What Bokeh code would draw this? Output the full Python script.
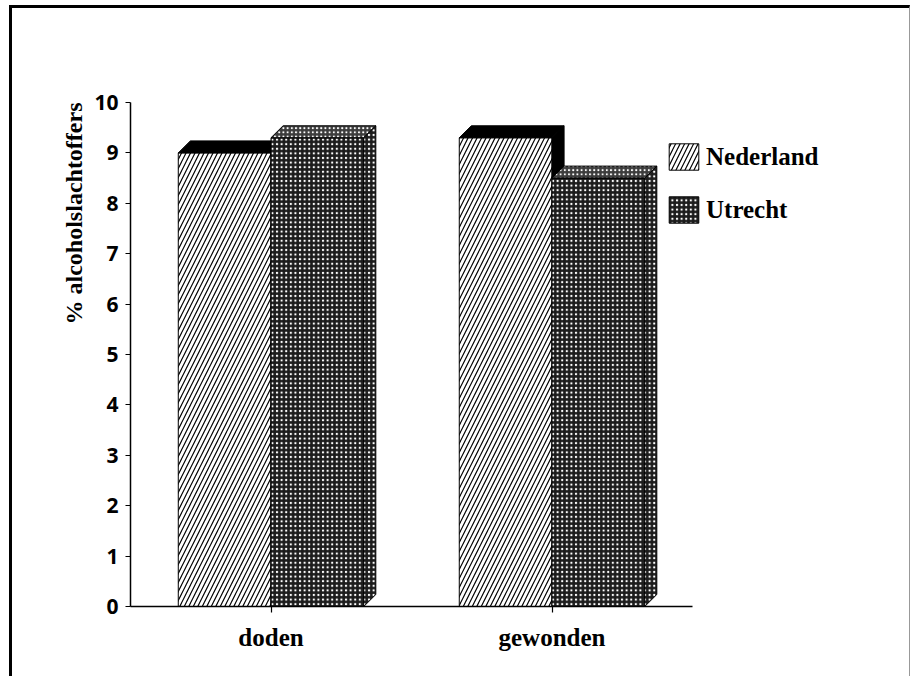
import math
from bokeh.plotting import figure
from bokeh.models import (Range1d, FixedTicker, Legend, LegendItem, Title)
from bokeh.embed import file_html
from bokeh.resources import INLINE

# ---- data ----
categories = ["doden", "gewonden"]
series_names = ["Nederland", "Utrecht"]
nederland = [9.0, 9.3]
utrecht = [9.3, 8.5]
y_ticks = [0, 1, 2, 3, 4, 5, 6, 7, 8, 9, 10]
y_label = "% alcoholslachtoffers"

# ---- style / layout constants ----
OX, OY = 12, 8            # page position of the canvas (margin + css border)
CW, CH = 901, 671         # canvas size
PX_PER_CAT = 281.0        # pixels per category unit along x
FRAME_L, FRAME_R, FRAME_T, FRAME_B = 130, 905, 102, 606   # page pixels
BAR_W = 0.33
DX = 0.043   # 3D depth in x (data units)
DY = 0.238   # 3D depth in y (data units)
SERIF = "Liberation Serif"

x_end = (FRAME_R - FRAME_L) / PX_PER_CAT

p = figure(width=CW, height=CH, output_backend="svg", toolbar_location=None,
           x_range=Range1d(0, x_end), y_range=Range1d(0, 10),
           min_border_left=FRAME_L - OX, min_border_right=OX + CW - FRAME_R,
           min_border_top=FRAME_T - OY, min_border_bottom=OY + CH - FRAME_B)
p.margin = (5, 0, 0, 9)
p.styles = {"border-left": "3px solid black", "border-top": "3px solid black",
            "border-right": "1px solid #999999"}
p.grid.visible = False
p.outline_line_color = None
p.background_fill_color = "white"
p.border_fill_color = "white"

centers = [i + 0.5 for i in range(len(categories))]
x_ned = [c - BAR_W / 2 for c in centers]
x_utr = [c + BAR_W / 2 for c in centers]


def faces(xc, vals):
    tops_x, tops_y, side_x, side_y = [], [], [], []
    for x, v in zip(xc, vals):
        l, r = x - BAR_W / 2, x + BAR_W / 2
        tops_x.append([l, l + DX, r + DX, r])
        tops_y.append([v, v + DY, v + DY, v])
        side_x.append([r, r + DX, r + DX, r])
        side_y.append([0, DY, v + DY, v])
    return tops_x, tops_y, side_x, side_y


HATCH_N = dict(fill_color="white", hatch_pattern="right_diagonal_line",
               hatch_color="black", hatch_scale=9, hatch_weight=1.2)
HATCH_U = dict(fill_color="#1c1c1c", hatch_pattern="dot",
               hatch_color="white", hatch_scale=4.6, hatch_weight=1.8)
HATCH_U_TOP = dict(fill_color="#3c3c3c", hatch_pattern="dot",
                   hatch_color="white", hatch_scale=4.2, hatch_weight=2.0)

renderers = []
for xc, vals, front, top_style, side_style in [
        (x_ned, nederland, HATCH_N, dict(fill_color="black"), dict(fill_color="black")),
        (x_utr, utrecht, HATCH_U, HATCH_U_TOP, HATCH_U)]:
    r = p.vbar(x=xc, top=vals, width=BAR_W, bottom=0, line_color="black",
               line_width=1, **front)
    renderers.append(r)
    tx, ty, sx, sy = faces(xc, vals)
    p.patches(xs=tx, ys=ty, line_color="black", line_width=1, **top_style)
    p.patches(xs=sx, ys=sy, line_color="black", line_width=1, **side_style)

# ---- axes ----
p.xaxis.bounds = (0, len(categories))
p.xaxis.ticker = FixedTicker(ticks=centers)
p.xaxis.major_label_overrides = {c: n for c, n in zip(centers, categories)}
p.xaxis.minor_tick_line_color = None
p.xaxis.major_tick_in = 0
p.xaxis.major_tick_out = 6
p.xaxis.major_label_standoff = 11
p.xaxis.major_label_text_font = SERIF
p.xaxis.major_label_text_font_style = "bold"
p.xaxis.major_label_text_font_size = "25px"
p.xaxis.major_label_text_color = "black"

p.yaxis.ticker = FixedTicker(ticks=y_ticks)
p.yaxis.minor_tick_line_color = None
p.yaxis.major_tick_in = 0
p.yaxis.major_tick_out = 5
p.yaxis.major_label_standoff = 7
p.yaxis.major_label_text_font = "Open Sans"
p.yaxis.major_label_text_font_style = "bold"
p.yaxis.major_label_text_font_size = "21px"
p.yaxis.major_label_text_color = "black"

for ax in (p.xaxis, p.yaxis):
    ax.axis_line_color = "black"
    ax.axis_line_width = 1.5
    ax.major_tick_line_color = "black"
    ax.major_tick_line_width = 1.2

# y-axis title (placed near the top of the axis, as in the reference)
p.add_layout(Title(text=y_label, align="right", offset=0, standoff=10,
                   text_font=SERIF, text_font_style="bold",
                   text_font_size="24px", text_color="black"), "left")

legend = Legend(items=[LegendItem(label=series_names[0], renderers=[renderers[0]]),
                       LegendItem(label=series_names[1], renderers=[renderers[1]])],
                location=(535, 380), orientation="vertical",
                glyph_width=37, glyph_height=33, spacing=20, padding=0, margin=0,
                label_standoff=4, border_line_color=None,
                background_fill_alpha=0,
                label_text_font=SERIF, label_text_font_style="bold",
                label_text_font_size="25px", label_text_color="black")
p.add_layout(legend, "center")

open("out.html", "w").write(file_html(p, INLINE))
